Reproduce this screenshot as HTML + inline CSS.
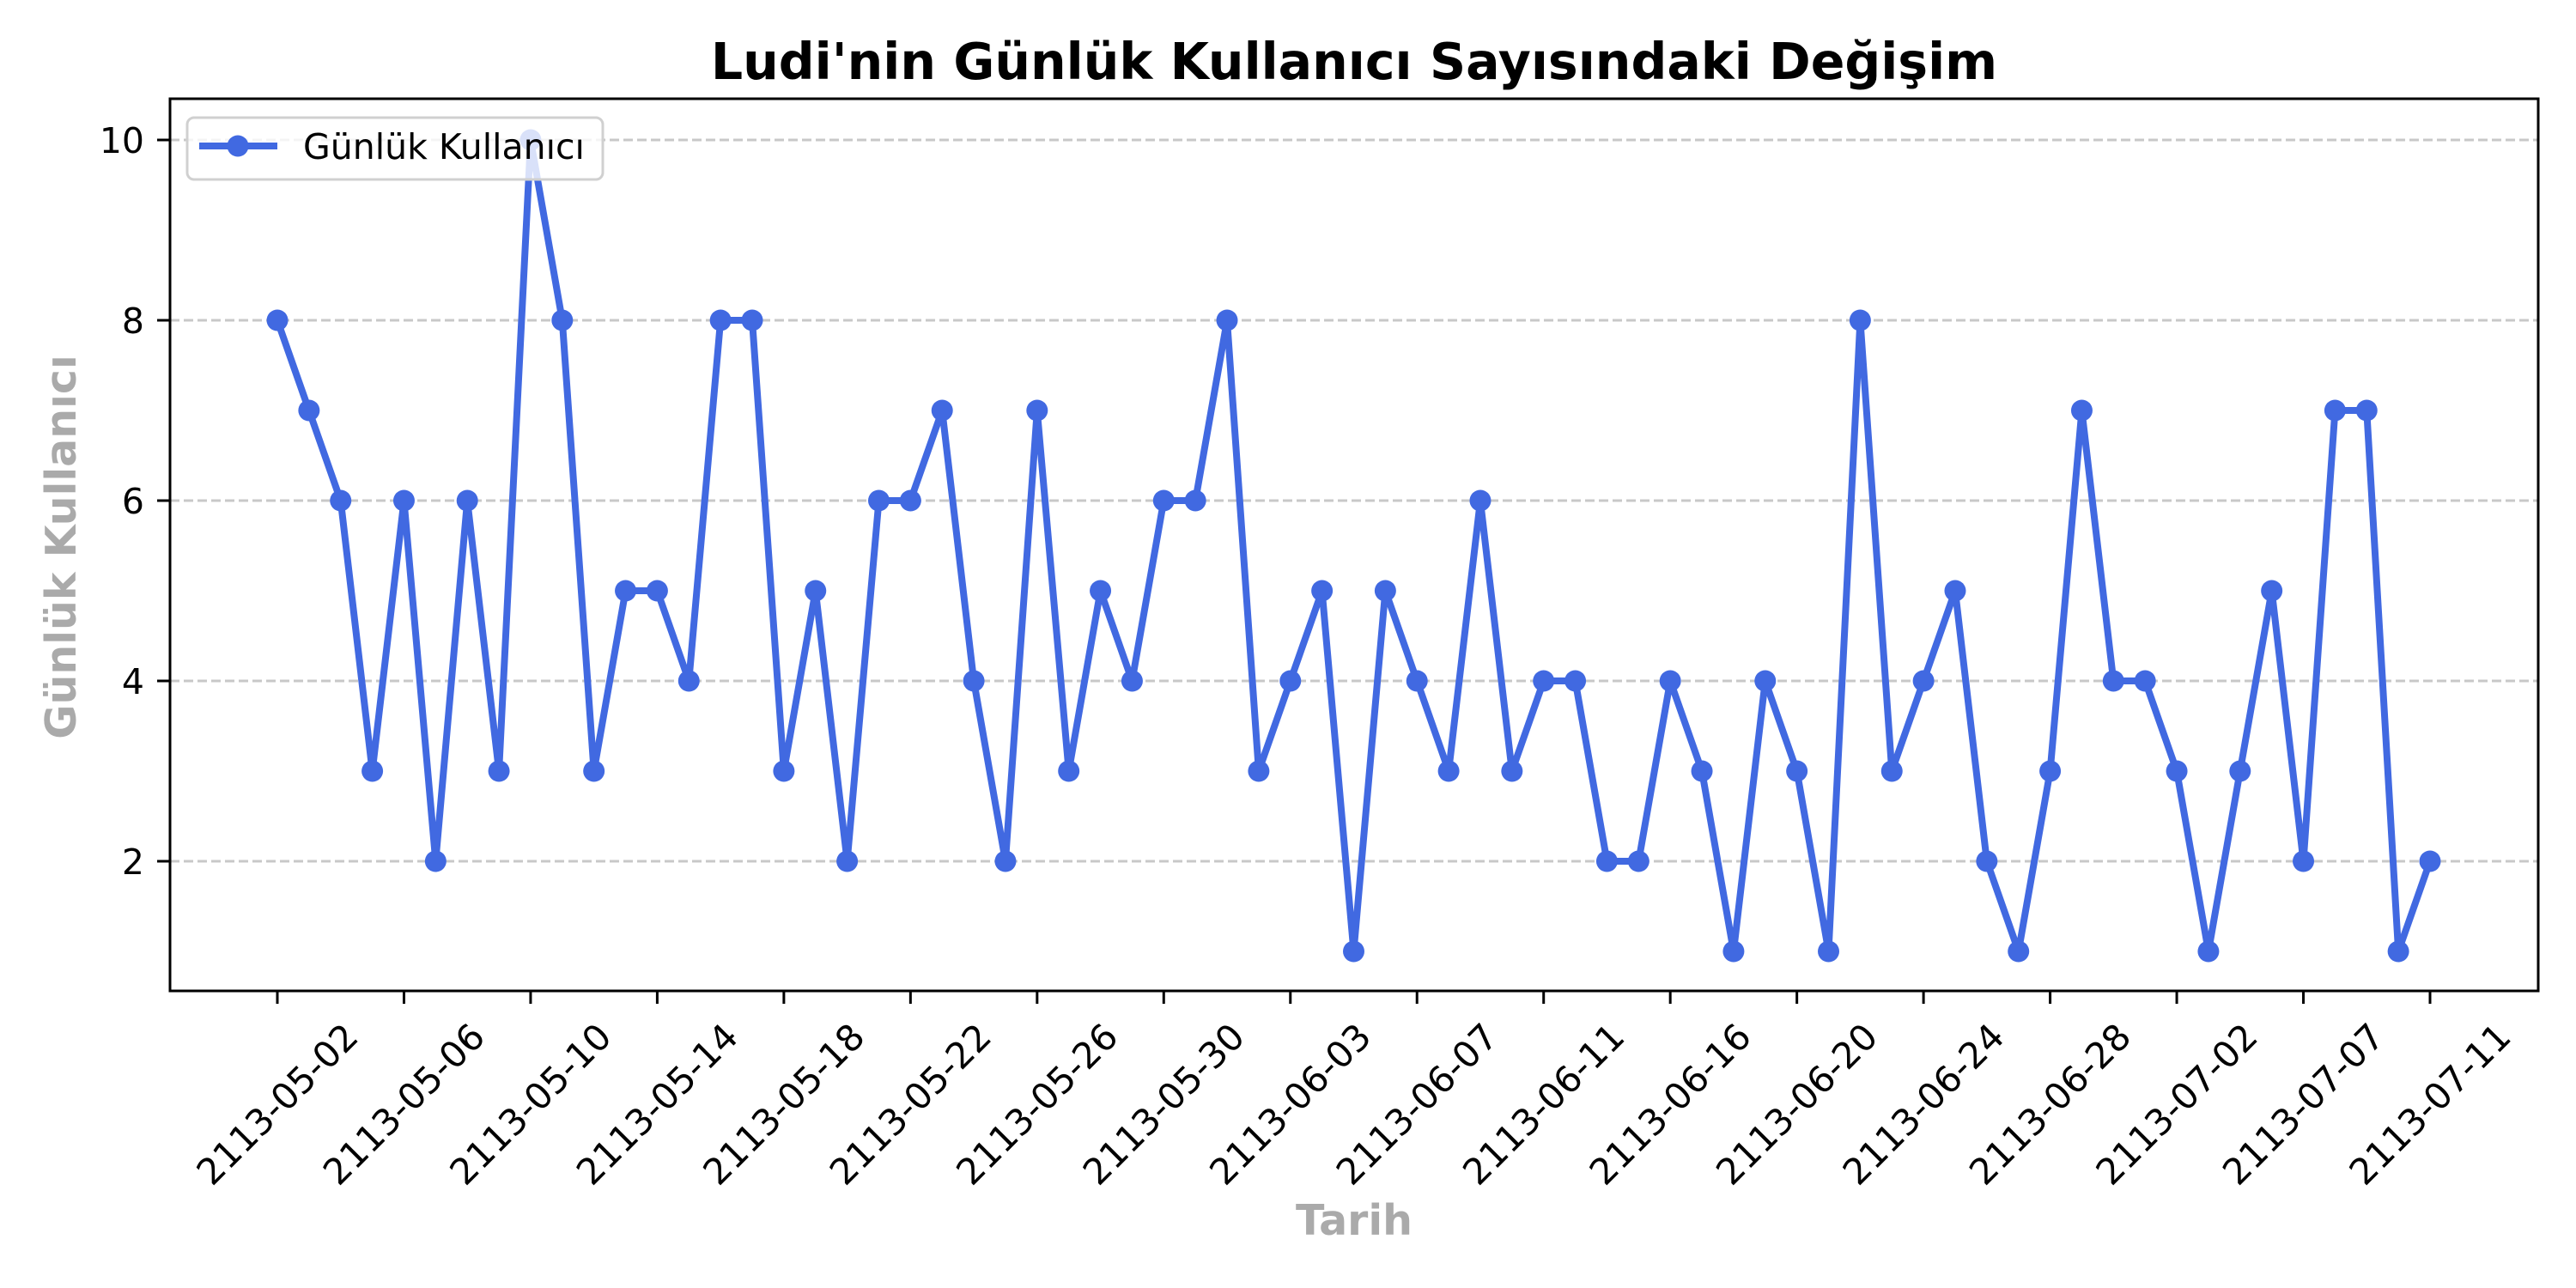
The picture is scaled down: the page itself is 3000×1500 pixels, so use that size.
<!DOCTYPE html>
<html><head><meta charset="utf-8"><style>
html,body{margin:0;padding:0;background:#fff;}
svg{display:block;font-family:"DejaVu Sans","Liberation Sans",sans-serif;}
</style></head><body>
<svg id="chart" width="3000" height="1500" viewBox="0 0 3000 1500" xmlns="http://www.w3.org/2000/svg">
<rect x="0" y="0" width="3000" height="1500" fill="#fff"/>
<text x="1577" y="92" text-anchor="middle" font-size="58.5" font-weight="bold" fill="#000">Ludi'nin Günlük Kullanıcı Sayısındaki Değişim</text>
<g id="grid"></g>
<g id="series"></g>
<g id="axes"></g>
<text x="1577" y="1438" text-anchor="middle" font-size="49" font-weight="bold" fill="#aaaaaa">Tarih</text>
<text transform="translate(88,637) rotate(-90)" text-anchor="middle" font-size="49" font-weight="bold" fill="#aaaaaa">Günlük Kullanıcı</text>
<g>
<rect x="218" y="137" width="484" height="72" rx="8" fill="#fff" fill-opacity="0.8" stroke="#d0d0d0" stroke-width="3"/>
<line x1="232" y1="170" x2="323" y2="170" stroke="#4169E1" stroke-width="8"/>
<circle cx="277" cy="170" r="12.5" fill="#4169E1"/>
<text x="353" y="185" font-size="41" fill="#000">Günlük Kullanıcı</text>
</g>
</svg>
<script>
const values = [8,7,6,3,6,2,6,3,10,8,3,5,5,4,8,8,3,5,2,6,6,7,4,2,7,3,5,4,6,6,8,3,4,5,1,5,4,3,6,3,4,4,2,2,4,3,1,4,3,1,8,3,4,5,2,1,3,7,4,4,3,1,3,5,2,7,7,1,2];
const xTickLabels = ["2113-05-02","2113-05-06","2113-05-10","2113-05-14","2113-05-18","2113-05-22","2113-05-26","2113-05-30","2113-06-03","2113-06-07","2113-06-11","2113-06-16","2113-06-20","2113-06-24","2113-06-28","2113-07-02","2113-07-07","2113-07-11"];
const yTicks = [2,4,6,8,10];

const NS = "http://www.w3.org/2000/svg";
const L = 198, R = 2956, T = 115, B = 1154;
const x0 = 323, x1 = 2830;
function xs(i){ return x0 + (x1 - x0) * i / (values.length - 1); }
function ys(v){ return 163 + (10 - v) * 105; }
function mk(tag, attrs, parent){ const e = document.createElementNS(NS, tag); for (const k in attrs) e.setAttribute(k, attrs[k]); parent.appendChild(e); return e; }

const grid = document.getElementById('grid');
const axes = document.getElementById('axes');
const series = document.getElementById('series');

yTicks.forEach(v => {
  const g = mk('line', {x1:L, x2:R, y1:ys(v), y2:ys(v), stroke:'#c8c8c8', 'stroke-width':3, 'stroke-dasharray':'11,5'}, grid);
  
  
  const t = mk('line', {x1:L-15, x2:L, y1:ys(v), y2:ys(v), stroke:'#000', 'stroke-width':3}, axes);
  
  
  const lb = mk('text', {x:L-30, y:ys(v)+15, 'text-anchor':'end', 'font-size':41, fill:'#000'}, axes);
  lb.textContent = v;
  
  
});

const frame = mk('rect', {x:L, y:T, width:R-L, height:B-T, fill:'none', stroke:'#000', 'stroke-width':3}, axes);



xTickLabels.forEach((lab, k) => {
  const x = xs(k*4);
  const t = mk('line', {x1:x, x2:x, y1:B, y2:B+15, stroke:'#000', 'stroke-width':3}, axes);
  
  
  const tx = mk('text', {transform:`translate(${x},${B+132}) rotate(-45)`, 'text-anchor':'middle', 'dominant-baseline':'central', 'font-size':42, fill:'#000'}, axes);
  tx.textContent = lab;
  
  
});

const pts = values.map((v,i) => xs(i)+','+ys(v)).join(' ');
const pl = mk('polyline', {points:pts, fill:'none', stroke:'#4169E1', 'stroke-width':8, 'stroke-linejoin':'round'}, series);


values.forEach((v,i) => {
  const c = mk('circle', {cx:xs(i), cy:ys(v), r:12.5, fill:'#4169E1'}, series);
  
  
});
</script>
</body></html>
